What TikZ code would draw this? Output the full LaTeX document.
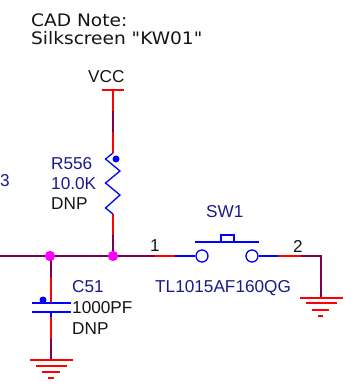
\documentclass[tikz,border=0pt]{standalone}
\usepackage{fontspec}
\setmainfont{Liberation Sans}
\newfontfamily\notefont[FakeStretch=1.08]{DejaVu Sans}
\definecolor{wirered}{RGB}{255,0,0}
\definecolor{wirepur}{RGB}{128,0,80}
\definecolor{partblue}{RGB}{0,0,255}
\definecolor{navy}{RGB}{25,25,140}
\definecolor{inkblack}{RGB}{20,20,20}
\definecolor{junc}{RGB}{255,0,255}
\tikzset{
  red wire/.style={draw=wirered,line width=1.3pt},
  pur wire/.style={draw=wirepur,line width=1.3pt},
  blue wire/.style={draw=partblue,line width=1.3pt},
  ref text/.style={font=\fontsize{17.2}{17}\selectfont,text=navy,anchor=west,inner sep=0pt},
  val text/.style={font=\fontsize{17.2}{17}\selectfont,text=inkblack,anchor=west,inner sep=0pt},
  note text/.style={font=\notefont\fontsize{17.2}{17}\selectfont,text=inkblack,anchor=west,inner sep=0pt},
  dotj/.style={circle,fill=junc,inner sep=0pt,minimum size=10pt},
  dotp/.style={circle,fill=partblue,inner sep=0pt,minimum size=7pt},
  pinc/.style={circle,draw=partblue,line width=1.3pt,fill=white,inner sep=0pt,minimum size=12pt}
}
\begin{document}
\begin{tikzpicture}[x=1pt,y=-1pt]
\useasboundingbox (0,0) rectangle (360,392);
% coordinates
\coordinate (vccT) at (113,90);
\coordinate (vccL) at (102,90);
\coordinate (vccR) at (124,90);
\coordinate (vccM) at (113,111);
\coordinate (vccN) at (113,132);
\coordinate (rT) at (113,153);
\coordinate (rB) at (113,214);
\coordinate (rM) at (113,235);
\coordinate (nL) at (0,256);
\coordinate (p1a) at (155,256);
\coordinate (p1b) at (175,256);
\coordinate (p2a) at (258,256);
\coordinate (p2b) at (278,256);
\coordinate (p2c) at (301,256);
\coordinate (p2d) at (321,256);
\coordinate (g2T) at (321,298);
\coordinate (cM) at (51,277);
\coordinate (cT) at (51,303);
\coordinate (cB) at (51,312);
\coordinate (cC) at (51,317);
\coordinate (cD) at (51,339);
\coordinate (g1T) at (51,360);
% wires
\draw[red wire] (vccL) -- (vccR);
\draw[red wire] (vccT) -- (vccM);
\draw[pur wire] (vccM) -- (vccN);
\draw[red wire] (vccN) -- (rT);
\draw[red wire] (rB) -- (rM);
\node[dotj] (j2) at (113,256) {};
\node[dotj] (j1) at (50,256) {};
\draw[pur wire] (rM) -- (j2);
\draw[pur wire] (nL) -- (j1) -- (j2) -- (p1a);
\draw[red wire] (p1a) -- (p1b);
\draw[pur wire] (cM |- j1) -- (cM);
\draw[red wire] (cM) -- (cT);
\draw[blue wire] (cB) -- (cC);
\draw[red wire] (cC) -- (cD);
\draw[pur wire] (cD) -- (g1T);
\draw[red wire] (p2b) -- (p2c);
\draw[pur wire] (p2c) -- (p2d) -- (g2T);
\node[dotj] at (j1) {};
\node[dotj] at (j2) {};
% resistor
\draw[blue wire,line join=miter] (rT) -- (105.5,159) -- (120,171) -- (105.5,183) -- (120,195) -- (105.5,208) -- (rB);
\node[dotp] (rdot) at (116,159) {};
% capacitor
\draw[blue wire] (32,303) -- (71,303);
\draw[blue wire] (32,312) -- (71,312);
\node[dotp] (cdot) at (43,300) {};
% grounds
\foreach \y/\a/\b in {360/30/73,366/36/67,372/42/60,378/48/54}
  \draw[red wire] (\a,\y) -- (\b,\y);
\foreach \y/\a/\b in {298/300/343,303/306/337,310/312/329,316/318/323}
  \draw[red wire] (\a,\y) -- (\b,\y);
% switch
\node[pinc] (swa) at (202,256) {};
\node[pinc] (swb) at (252,256) {};
\draw[blue wire] (p1b) -- (swa);
\draw[blue wire] (swb) -- (p2b);
\draw[blue wire,line width=1.8pt] (195,242) -- (259,242);
\draw[blue wire] (221,242) -- (221,235) -- (234,235) -- (234,242);
% text
\node[note text] (note1) at (31,20) {CAD Note:};
\node[note text] (note2) at (31,38) {Silkscreen "KW01"};
\node[val text] (vcc) at (88,77) {VCC};
\node[ref text] (r1) at (51,164) {R556};
\node[ref text] (r2) at (51,184) {10.0K};
\node[val text] (r3) at (51,204) {DNP};
\node[ref text] (three) at (0,181) {3};
\node[ref text] (c1) at (72,287) {C51};
\node[val text] (c2) at (72,308) {1000PF};
\node[val text] (c3) at (72,329) {DNP};
\node[ref text] (s1) at (206,212) {SW1};
\node[ref text] (s2) at (155,288) {TL1015AF160QG};
\node[val text] (n1) at (150,246) {1};
\node[val text] (n2) at (293,246) {2};
\end{tikzpicture}
\end{document}
